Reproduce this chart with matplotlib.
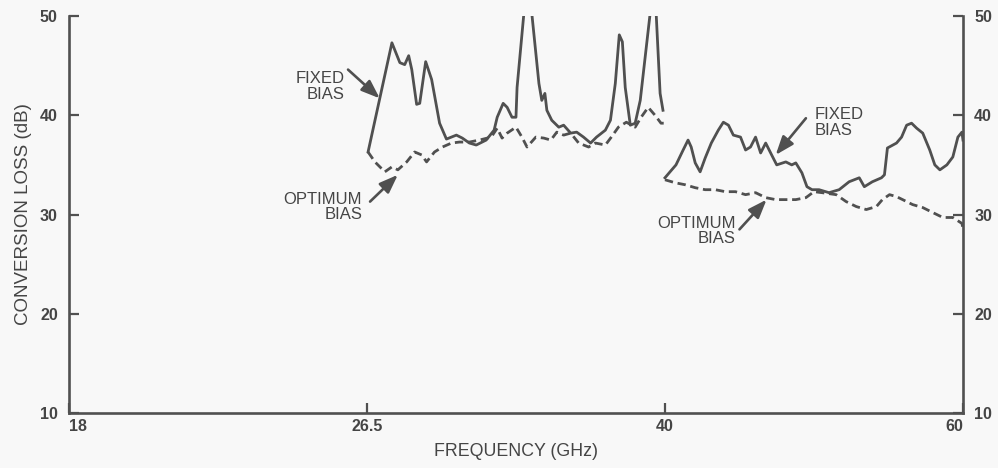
import numpy as np
import matplotlib
matplotlib.use('Agg')
import matplotlib.pyplot as plt

# frequency band edges (piecewise axis: each band gets the same width)
band_edges = [18, 26.5, 40, 60]
tick_labels = ['18', '26.5', '40', '60']
y_ticks = [10, 20, 30, 40, 50]

# 26.5 - 40 GHz band
fixed_lo_f = [26.55, 27.63, 27.99, 28.21, 28.39, 28.53, 28.75, 28.89, 29.16, 29.43,
              29.79, 30.10, 30.55, 30.82, 31.14, 31.45, 31.90, 32.26, 32.40, 32.67,
              32.85, 33.07, 33.25, 33.30, 33.61, 33.80, 33.97, 34.29, 34.42, 34.56,
              34.65, 34.87, 35.19, 35.41, 35.73, 36.00, 36.31, 36.63, 36.90, 37.30,
              37.53, 37.75, 37.93, 38.07, 38.20, 38.43, 38.65, 38.88, 39.33, 39.46,
              39.60, 39.78, 39.91]
fixed_lo_db = [36.3, 47.3, 45.3, 45.1, 46.0, 44.6, 41.1, 41.2, 45.4, 43.6,
               39.2, 37.6, 38.0, 37.7, 37.2, 37.0, 37.5, 38.5, 39.8, 41.2,
               40.8, 39.8, 39.8, 42.8, 50.3, 54.0, 50.2, 43.2, 41.5, 42.2,
               40.5, 39.5, 38.8, 39.0, 38.2, 38.3, 37.8, 37.2, 37.8, 38.5,
               39.5, 43.2, 48.1, 47.4, 42.8, 39.0, 39.2, 41.5, 50.3, 54.0,
               50.3, 42.2, 40.5]

opt_lo_f = [26.55, 26.86, 27.31, 27.63, 27.90, 28.30, 28.66, 28.98, 29.20, 29.56,
            29.92, 30.33, 30.69, 31.14, 31.59, 32.13, 32.40, 32.62, 32.85, 33.25,
            33.52, 33.75, 34.15, 34.51, 34.83, 35.10, 35.41, 35.73, 36.09, 36.54,
            36.85, 37.30, 37.57, 37.89, 38.25, 38.65, 38.92, 39.24, 39.55, 39.82, 40.0]
opt_lo_db = [36.3, 35.3, 34.3, 34.8, 34.5, 35.3, 36.3, 36.0, 35.3, 36.3,
             36.8, 37.2, 37.3, 37.3, 37.5, 37.8, 38.7, 37.7, 38.2, 38.8,
             37.8, 36.8, 37.8, 37.7, 37.5, 38.3, 38.0, 38.2, 37.2, 36.8,
             37.2, 37.0, 37.8, 38.8, 39.3, 38.8, 39.8, 40.8, 40.0, 39.2, 39.2]

# 40 - 60 GHz band
fixed_hi_f = [40.0, 40.34, 40.74, 41.22, 41.55, 41.76, 42.03, 42.36, 42.70, 43.11,
              43.58, 43.92, 44.26, 44.59, 45.07, 45.41, 45.74, 46.08, 46.42, 46.76,
              47.16, 47.50, 48.11, 48.51, 48.78, 49.19, 49.53, 49.87, 50.34, 51.01,
              51.69, 52.36, 53.04, 53.38, 53.92, 54.53, 54.73, 54.93, 55.54, 55.88,
              56.22, 56.55, 56.89, 57.30, 57.77, 58.11, 58.45, 58.92, 59.32, 59.66,
              59.93, 60.0]
fixed_hi_db = [33.7, 34.3, 35.0, 36.5, 37.5, 36.8, 35.2, 34.3, 35.7, 37.2,
               38.5, 39.3, 39.0, 38.0, 37.8, 36.5, 36.8, 37.8, 36.2, 37.2,
               36.0, 35.0, 35.3, 35.0, 35.2, 34.2, 32.8, 32.5, 32.5, 32.2,
               32.5, 33.3, 33.7, 32.8, 33.3, 33.7, 34.0, 36.7, 37.2, 37.8,
               39.0, 39.2, 38.7, 38.2, 36.5, 35.0, 34.5, 35.0, 35.8, 37.8,
               38.3, 37.5]

opt_hi_f = [40.0, 40.68, 41.35, 42.03, 42.70, 43.38, 44.05, 44.73, 45.41, 46.08,
            46.76, 47.43, 48.11, 48.78, 49.46, 50.0, 50.54, 51.49, 52.16, 52.84,
            53.51, 54.19, 54.59, 55.07, 55.54, 55.95, 56.62, 57.30, 57.97, 58.65,
            59.32, 59.93, 60.0]
opt_hi_db = [33.5, 33.2, 33.0, 32.7, 32.5, 32.5, 32.3, 32.3, 32.0, 32.2,
             31.7, 31.5, 31.5, 31.5, 31.7, 32.3, 32.2, 32.0, 31.3, 30.8,
             30.5, 30.8, 31.5, 32.0, 31.8, 31.5, 31.0, 30.7, 30.2, 29.7,
             29.7, 29.1, 28.6]

pos = np.arange(len(band_edges))


def fwd(f):
    return np.interp(f, band_edges, pos)


def inv(p):
    return np.interp(p, pos, band_edges)


ink = '#505050'
txt = '#454545'
bg = '#f8f8f8'

plt.rcParams['font.family'] = ['Liberation Sans', 'DejaVu Sans']

fig = plt.figure(figsize=(9.98, 4.68), dpi=100, facecolor=bg)
ax = fig.add_axes([0.0691, 0.1175, 0.8958, 0.8483], facecolor=bg)
ax.set_xscale('function', functions=(fwd, inv))
ax.set_xlim(18, 60)
ax.set_ylim(10, 50)

lw = 2.0
ax.plot(fixed_lo_f, fixed_lo_db, color=ink, lw=lw, solid_joinstyle='round')
ax.plot(fixed_hi_f, fixed_hi_db, color=ink, lw=lw, solid_joinstyle='round')
ax.plot(opt_lo_f, opt_lo_db, color=ink, lw=lw, linestyle=(0, (3.0, 1.7)))
ax.plot(opt_hi_f, opt_hi_db, color=ink, lw=lw, linestyle=(0, (3.0, 1.7)))

# spines / ticks
ax.spines['top'].set_visible(False)
for s in ['left', 'right', 'bottom']:
    ax.spines[s].set_linewidth(1.9)
    ax.spines[s].set_color(ink)

ax.set_xticks(band_edges)
ax.set_xticklabels(tick_labels)
ax.set_yticks(y_ticks)
ax.tick_params(axis='y', direction='in', length=7, width=1.6, color=ink,
               left=True, right=True, labelleft=True, labelright=True,
               labelsize=11.5, labelcolor=txt, pad=8)
ax.tick_params(axis='x', direction='in', length=7, width=1.6, color=ink,
               labelsize=11.5, labelcolor=txt, pad=4)
for lab in ax.get_xticklabels() + ax.get_yticklabels():
    lab.set_fontweight('bold')
for t in ax.yaxis.get_major_ticks():
    t.label2.set_fontweight('bold')
xl = ax.get_xticklabels()
xl[0].set_ha('left')
xl[-1].set_ha('right')

ax.set_xlabel('FREQUENCY (GHz)', fontsize=12.8, color=txt, labelpad=7)
ax.set_ylabel('CONVERSION LOSS (dB)', fontsize=13.5, color=txt, labelpad=6)

# curve labels with arrows
lab_kw = dict(fontsize=12, color=txt, linespacing=1.05, va='center')
ax.text(25.85, 42.9, 'FIXED\nBIAS', ha='right', multialignment='right', **lab_kw)
ax.text(26.36, 30.75, 'OPTIMUM\nBIAS', ha='right', multialignment='right', **lab_kw)
ax.text(50.07, 39.3, 'FIXED\nBIAS', ha='left', multialignment='left', **lab_kw)
ax.text(44.76, 28.35, 'OPTIMUM\nBIAS', ha='right', multialignment='right', **lab_kw)

arrow_kw = dict(arrowstyle='-|>,head_length=0.8,head_width=0.3', color=ink, lw=1.9,
                shrinkA=0, shrinkB=0, mutation_scale=14)
arrows = [((25.96, 44.6), (27.08, 41.7)),
          ((26.64, 31.3), (27.90, 34.0)),
          ((49.46, 39.7), (47.43, 36.0)),
          ((45.0, 28.5), (46.82, 31.5))]
for tail, tip in arrows:
    ax.annotate('', xy=tip, xytext=tail, arrowprops=arrow_kw)

fig.savefig('out.png', dpi=100, facecolor=bg)
